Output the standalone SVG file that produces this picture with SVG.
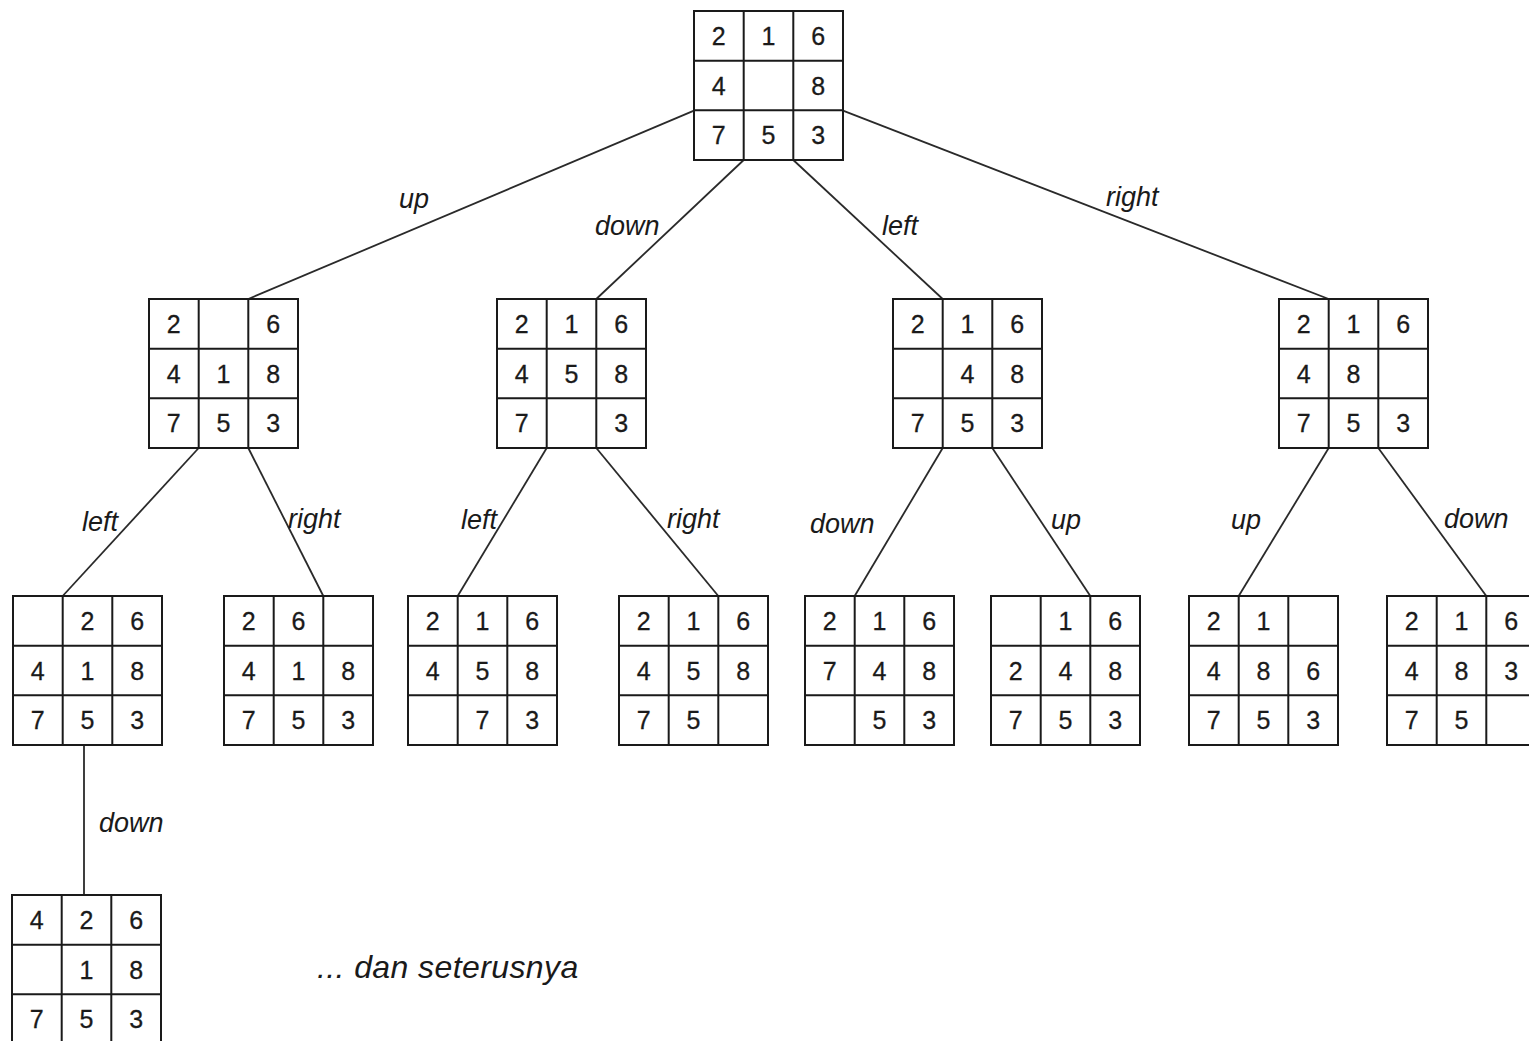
<svg xmlns="http://www.w3.org/2000/svg" xmlns:xlink="http://www.w3.org/1999/xlink" width="1529" height="1041" viewBox="0 0 1529 1041">
<style>
.g{fill:#fff;stroke:#1a1a1a;stroke-width:2}
.d{font-family:"Liberation Sans",Arial,sans-serif;font-size:25px;fill:#1a1a1a;text-anchor:middle;stroke:#1a1a1a;stroke-width:0.3}
.lbl{font-family:"Liberation Sans",Arial,sans-serif;font-size:27px;font-style:italic;fill:#1a1a1a}
.c line{stroke:#2a2a2a;stroke-width:1.8}
</style>
<defs>
<g id="grid">
<rect class="g" x="0" y="0" width="149" height="149"/>
<path d="M49.7 0V149M99.3 0V149M0 49.7H149M0 99.3H149" stroke="#1a1a1a" stroke-width="2" fill="none"/>
</g>
</defs>
<rect width="1529" height="1041" fill="#fff"/>
<g class="c" id="connectors">
<line x1="694" y1="110.7" x2="248.3" y2="299"/>
<line x1="743.7" y1="160" x2="596.3" y2="299"/>
<line x1="793.3" y1="160" x2="942.7" y2="299"/>
<line x1="843" y1="110.7" x2="1328.7" y2="299"/>
<line x1="198.7" y1="448" x2="62.7" y2="596"/>
<line x1="248.3" y1="448" x2="323.3" y2="596"/>
<line x1="546.7" y1="448" x2="457.7" y2="596"/>
<line x1="596.3" y1="448" x2="718.3" y2="596"/>
<line x1="942.7" y1="448" x2="854.7" y2="596"/>
<line x1="992.3" y1="448" x2="1090.3" y2="596"/>
<line x1="1328.7" y1="448" x2="1238.7" y2="596"/>
<line x1="1378.3" y1="448" x2="1486.3" y2="596"/>
<line x1="84" y1="745" x2="84" y2="895"/>
</g>
<g id="labels">
<text class="lbl" x="399" y="208">up</text>
<text class="lbl" x="595" y="235">down</text>
<text class="lbl" x="882" y="235">left</text>
<text class="lbl" x="1106" y="206">right</text>
<text class="lbl" x="82" y="531">left</text>
<text class="lbl" x="288" y="528">right</text>
<text class="lbl" x="461" y="529">left</text>
<text class="lbl" x="667" y="528">right</text>
<text class="lbl" x="810" y="533">down</text>
<text class="lbl" x="1051" y="529">up</text>
<text class="lbl" x="1231" y="529">up</text>
<text class="lbl" x="1444" y="528">down</text>
<text class="lbl" x="99" y="832">down</text>
<text class="lbl" x="317" y="978" style="font-size:32px;letter-spacing:0.4px">... dan seterusnya</text>
</g>
<g id="root" transform="translate(694,11)"><use xlink:href="#grid"/>
<text class="d" x="24.8" y="33.8">2</text><text class="d" x="74.5" y="33.8">1</text><text class="d" x="124.2" y="33.8">6</text>
<text class="d" x="24.8" y="83.5">4</text><text class="d" x="124.2" y="83.5">8</text>
<text class="d" x="24.8" y="133.2">7</text><text class="d" x="74.5" y="133.2">5</text><text class="d" x="124.2" y="133.2">3</text></g>
<g id="n1" transform="translate(149,299)"><use xlink:href="#grid"/>
<text class="d" x="24.8" y="33.8">2</text><text class="d" x="124.2" y="33.8">6</text>
<text class="d" x="24.8" y="83.5">4</text><text class="d" x="74.5" y="83.5">1</text><text class="d" x="124.2" y="83.5">8</text>
<text class="d" x="24.8" y="133.2">7</text><text class="d" x="74.5" y="133.2">5</text><text class="d" x="124.2" y="133.2">3</text></g>
<g id="n2" transform="translate(497,299)"><use xlink:href="#grid"/>
<text class="d" x="24.8" y="33.8">2</text><text class="d" x="74.5" y="33.8">1</text><text class="d" x="124.2" y="33.8">6</text>
<text class="d" x="24.8" y="83.5">4</text><text class="d" x="74.5" y="83.5">5</text><text class="d" x="124.2" y="83.5">8</text>
<text class="d" x="24.8" y="133.2">7</text><text class="d" x="124.2" y="133.2">3</text></g>
<g id="n3" transform="translate(893,299)"><use xlink:href="#grid"/>
<text class="d" x="24.8" y="33.8">2</text><text class="d" x="74.5" y="33.8">1</text><text class="d" x="124.2" y="33.8">6</text>
<text class="d" x="74.5" y="83.5">4</text><text class="d" x="124.2" y="83.5">8</text>
<text class="d" x="24.8" y="133.2">7</text><text class="d" x="74.5" y="133.2">5</text><text class="d" x="124.2" y="133.2">3</text></g>
<g id="n4" transform="translate(1279,299)"><use xlink:href="#grid"/>
<text class="d" x="24.8" y="33.8">2</text><text class="d" x="74.5" y="33.8">1</text><text class="d" x="124.2" y="33.8">6</text>
<text class="d" x="24.8" y="83.5">4</text><text class="d" x="74.5" y="83.5">8</text>
<text class="d" x="24.8" y="133.2">7</text><text class="d" x="74.5" y="133.2">5</text><text class="d" x="124.2" y="133.2">3</text></g>
<g id="n11" transform="translate(13,596)"><use xlink:href="#grid"/>
<text class="d" x="74.5" y="33.8">2</text><text class="d" x="124.2" y="33.8">6</text>
<text class="d" x="24.8" y="83.5">4</text><text class="d" x="74.5" y="83.5">1</text><text class="d" x="124.2" y="83.5">8</text>
<text class="d" x="24.8" y="133.2">7</text><text class="d" x="74.5" y="133.2">5</text><text class="d" x="124.2" y="133.2">3</text></g>
<g id="n12" transform="translate(224,596)"><use xlink:href="#grid"/>
<text class="d" x="24.8" y="33.8">2</text><text class="d" x="74.5" y="33.8">6</text>
<text class="d" x="24.8" y="83.5">4</text><text class="d" x="74.5" y="83.5">1</text><text class="d" x="124.2" y="83.5">8</text>
<text class="d" x="24.8" y="133.2">7</text><text class="d" x="74.5" y="133.2">5</text><text class="d" x="124.2" y="133.2">3</text></g>
<g id="n21" transform="translate(408,596)"><use xlink:href="#grid"/>
<text class="d" x="24.8" y="33.8">2</text><text class="d" x="74.5" y="33.8">1</text><text class="d" x="124.2" y="33.8">6</text>
<text class="d" x="24.8" y="83.5">4</text><text class="d" x="74.5" y="83.5">5</text><text class="d" x="124.2" y="83.5">8</text>
<text class="d" x="74.5" y="133.2">7</text><text class="d" x="124.2" y="133.2">3</text></g>
<g id="n22" transform="translate(619,596)"><use xlink:href="#grid"/>
<text class="d" x="24.8" y="33.8">2</text><text class="d" x="74.5" y="33.8">1</text><text class="d" x="124.2" y="33.8">6</text>
<text class="d" x="24.8" y="83.5">4</text><text class="d" x="74.5" y="83.5">5</text><text class="d" x="124.2" y="83.5">8</text>
<text class="d" x="24.8" y="133.2">7</text><text class="d" x="74.5" y="133.2">5</text></g>
<g id="n31" transform="translate(805,596)"><use xlink:href="#grid"/>
<text class="d" x="24.8" y="33.8">2</text><text class="d" x="74.5" y="33.8">1</text><text class="d" x="124.2" y="33.8">6</text>
<text class="d" x="24.8" y="83.5">7</text><text class="d" x="74.5" y="83.5">4</text><text class="d" x="124.2" y="83.5">8</text>
<text class="d" x="74.5" y="133.2">5</text><text class="d" x="124.2" y="133.2">3</text></g>
<g id="n32" transform="translate(991,596)"><use xlink:href="#grid"/>
<text class="d" x="74.5" y="33.8">1</text><text class="d" x="124.2" y="33.8">6</text>
<text class="d" x="24.8" y="83.5">2</text><text class="d" x="74.5" y="83.5">4</text><text class="d" x="124.2" y="83.5">8</text>
<text class="d" x="24.8" y="133.2">7</text><text class="d" x="74.5" y="133.2">5</text><text class="d" x="124.2" y="133.2">3</text></g>
<g id="n41" transform="translate(1189,596)"><use xlink:href="#grid"/>
<text class="d" x="24.8" y="33.8">2</text><text class="d" x="74.5" y="33.8">1</text>
<text class="d" x="24.8" y="83.5">4</text><text class="d" x="74.5" y="83.5">8</text><text class="d" x="124.2" y="83.5">6</text>
<text class="d" x="24.8" y="133.2">7</text><text class="d" x="74.5" y="133.2">5</text><text class="d" x="124.2" y="133.2">3</text></g>
<g id="n42" transform="translate(1387,596)"><use xlink:href="#grid"/>
<text class="d" x="24.8" y="33.8">2</text><text class="d" x="74.5" y="33.8">1</text><text class="d" x="124.2" y="33.8">6</text>
<text class="d" x="24.8" y="83.5">4</text><text class="d" x="74.5" y="83.5">8</text><text class="d" x="124.2" y="83.5">3</text>
<text class="d" x="24.8" y="133.2">7</text><text class="d" x="74.5" y="133.2">5</text></g>
<g id="n111" transform="translate(12,895)"><use xlink:href="#grid"/>
<text class="d" x="24.8" y="33.8">4</text><text class="d" x="74.5" y="33.8">2</text><text class="d" x="124.2" y="33.8">6</text>
<text class="d" x="74.5" y="83.5">1</text><text class="d" x="124.2" y="83.5">8</text>
<text class="d" x="24.8" y="133.2">7</text><text class="d" x="74.5" y="133.2">5</text><text class="d" x="124.2" y="133.2">3</text></g>
</svg>
